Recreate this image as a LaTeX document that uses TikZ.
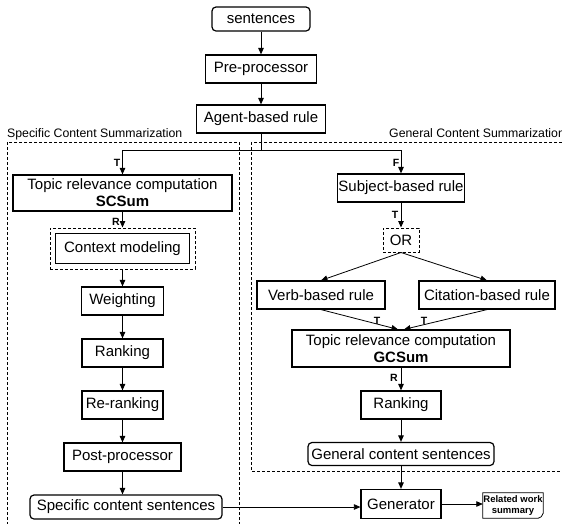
\documentclass[tikz,border=0pt]{standalone}
\usepackage{fontspec}
\setmainfont{Liberation Sans}
\usetikzlibrary{arrows.meta}
\begin{document}
\begin{tikzpicture}[x=1pt,y=-1pt,
 box/.style={draw, line width=1.2pt, inner sep=0pt, font=\fontsize{15}{17}\selectfont, align=center},
 rbox/.style={box, rounded corners=4pt},
 dbox/.style={draw, dash pattern=on 3pt off 2pt, line width=1pt},
 conn/.style={line width=1pt},
 arr/.style={conn, -{Triangle[length=6.5pt,width=5.5pt]}},
 thinarr/.style={line width=0.8pt, -{Triangle[length=6.5pt,width=5.5pt]}},
 lab/.style={font=\fontsize{10.5}{12}\selectfont\bfseries, inner sep=0pt},
 title/.style={font=\fontsize{12.3}{14}\selectfont, inner sep=0pt}]
\useasboundingbox (0,0) rectangle (562,523);
\clip (0,0) rectangle (562,523);

% regions
\draw[dbox] (7,142) rectangle (239,545);
\draw[dbox] (251,142) rectangle (590,471);
\node[title, anchor=base west] (tl) at (7,137) {Specific Content Summarization};
\node[title, anchor=base west] (tr) at (389,137) {General Content Summarization};

% top chain
\node[rbox, minimum width=98pt, minimum height=24pt] (sent) at (261,19) {sentences};
\node[box, minimum width=111pt, minimum height=28pt] (pre) at (261,69) {Pre-processor};
\node[box, minimum width=129pt, minimum height=28pt] (agent) at (261,119) {Agent-based rule};

% left column
\node[box, minimum width=219pt, minimum height=36pt] (t1) at (122.5,193) {Topic relevance computation\\\textbf{SCSum}};
\node[dbox, inner sep=0pt, minimum width=145pt, minimum height=41pt] (ctxo) at (122.5,248.5) {};
\node[box, minimum width=134pt, minimum height=30pt] (ctx) at (122.5,248.5) {Context modeling};
\node[box, minimum width=82pt, minimum height=28pt] (weight) at (122.5,301) {Weighting};
\node[box, minimum width=81pt, minimum height=28pt] (rank1) at (122.5,353) {Ranking};
\node[box, minimum width=81pt, minimum height=28pt] (rerank) at (122.5,405) {Re-ranking};
\node[box, minimum width=117pt, minimum height=28pt] (post) at (122.5,457) {Post-processor};
\node[rbox, minimum width=192pt, minimum height=24pt] (scs) at (126,507) {Specific content sentences};

% right column
\node[box, minimum width=127pt, minimum height=28pt] (subj) at (401,188) {Subject-based rule};
\node[dbox, inner sep=0pt, minimum width=36pt, minimum height=24pt, font=\fontsize{15}{17}\selectfont] (orn) at (401,240) {OR};
\node[box, minimum width=128pt, minimum height=28pt] (verb) at (321,295) {Verb-based rule};
\node[box, minimum width=136pt, minimum height=28pt] (cit) at (487,295) {Citation-based rule};
\node[box, minimum width=218pt, minimum height=37pt] (t2) at (401,348.5) {Topic relevance computation\\\textbf{GCSum}};
\node[box, minimum width=80pt, minimum height=28pt] (rank2) at (401,405) {Ranking};
\node[rbox, minimum width=186pt, minimum height=23pt] (gcs) at (401,454) {General content sentences};
\node[box, minimum width=80pt, minimum height=29pt] (gen) at (401,504) {Generator};
\node[inner sep=0pt, minimum width=60pt, minimum height=25pt, align=center, font=\fontsize{9.5}{11}\selectfont\bfseries] (doc) at (513,505.5) {Related work\\summary};
\draw[line width=0.8pt] (doc.north west) -- (doc.north east) -- ([yshift=5pt]doc.south east)
  .. controls ([xshift=-2pt,yshift=1pt]doc.south east) .. ([xshift=-5pt]doc.south east) -- (doc.south west) -- cycle;

% connectors top
\draw[arr] (sent) -- (pre);
\draw[arr] (pre) -- (agent);
\coordinate (br) at (261,150);
\draw[conn] (agent) -- (br);
\draw[arr] (br) -| (t1);
\draw[arr] (br) -| (subj);
\node[lab] (lt) at (117,163) {T};
\node[lab] (lf) at (396,163) {F};

% left connectors
\draw[arr] (t1) -- (ctxo);
\node[lab] (lr1) at (116,222) {R};
\draw[arr] (ctxo) -- (weight);
\draw[arr] (weight) -- (rank1);
\draw[arr] (rank1) -- (rerank);
\draw[arr] (rerank) -- (post);
\draw[arr] (post.south) -- (post.south |- scs.north);

% right connectors
\draw[arr] (subj) -- (orn);
\node[lab] (lt2) at (395,215) {T};
\draw[thinarr] (orn.south) -- (verb.north);
\draw[thinarr] (orn.south) -- (cit.north);
\draw[thinarr] (verb.south) -- ([xshift=-3pt]t2.north);
\draw[thinarr] (cit.south) -- ([xshift=3pt]t2.north);
\node[lab] (lt3) at (377,321) {T};
\node[lab] (lt4) at (424,321) {T};
\draw[arr] (t2) -- (rank2);
\node[lab] (lr2) at (394,378) {R};
\draw[arr] (rank2) -- (gcs);
\draw[arr] (gcs.south) -- (gcs.south |- gen.north);
\draw[thinarr] (scs.east) -- (scs.east -| gen.west);
\draw[thinarr] (gen.east) -- (gen.east -| doc.west);
\end{tikzpicture}
\end{document}
